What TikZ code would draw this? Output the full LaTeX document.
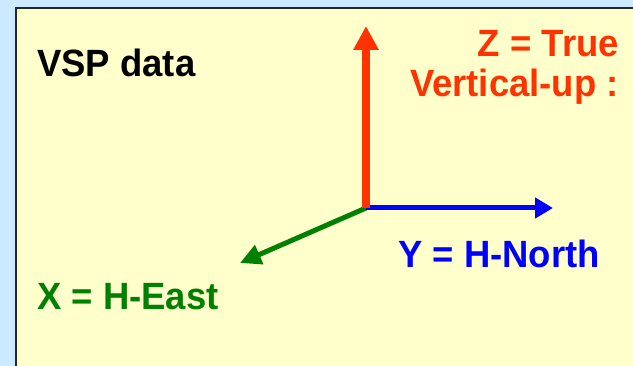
\documentclass[tikz,border=0pt]{standalone}
\usepackage{fontspec}
\setmainfont{Liberation Sans}[FakeStretch=0.96]
\usetikzlibrary{arrows.meta}
\definecolor{skyback}{RGB}{204,234,255}
\definecolor{paleyellow}{RGB}{255,255,204}
\definecolor{zred}{RGB}{255,51,0}
\definecolor{yblue}{RGB}{0,0,255}
\definecolor{xgreen}{RGB}{0,128,0}
\tikzset{
  lab/.style={inner sep=0pt, font=\fontsize{38}{45}\selectfont\bfseries},
  axisz/.style={draw=zred, line width=8pt, -{Triangle[width=24pt,length=24pt]}},
  axisy/.style={draw=yblue, line width=5pt, -{Triangle[width=20pt,length=18pt]}},
  axisx/.style={draw=xgreen, line width=5pt, -{Triangle[width=20pt,length=21pt]}},
}
\begin{document}
\begin{tikzpicture}[x=1pt,y=1pt]
\useasboundingbox (0,0) rectangle (633,366);
\fill[skyback] (0,0) rectangle (633,366);
\draw[fill=paleyellow, draw=black!85, line width=2pt] (16,-20) -- (16,358) -- (660,358);
\fill[paleyellow] (17,-20) rectangle (660,357);
\coordinate (O) at (366,158);
\coordinate (ztip) at (366,340);
\coordinate (ytip) at (553,158);
\coordinate (xtip) at (240,103);
\draw[axisx] (O) -- (xtip);
\draw[axisy] (O) -- (ytip);
\draw[axisz] (O) -- (ztip);
\node[lab, anchor=base west] (vsp) at (37,289) {VSP data};
\node[lab, anchor=base east, text=zred] (ztrue) at (619,309) {Z = True};
\node[lab, anchor=base east, text=zred] (zvert) at (619,269) {Vertical-up :};
\node[lab, anchor=base west, text=yblue] (ylab) at (398,98) {Y = H-North};
\node[lab, anchor=base west, text=xgreen] (xlab) at (37,56) {X = H-East};
\end{tikzpicture}
\end{document}
